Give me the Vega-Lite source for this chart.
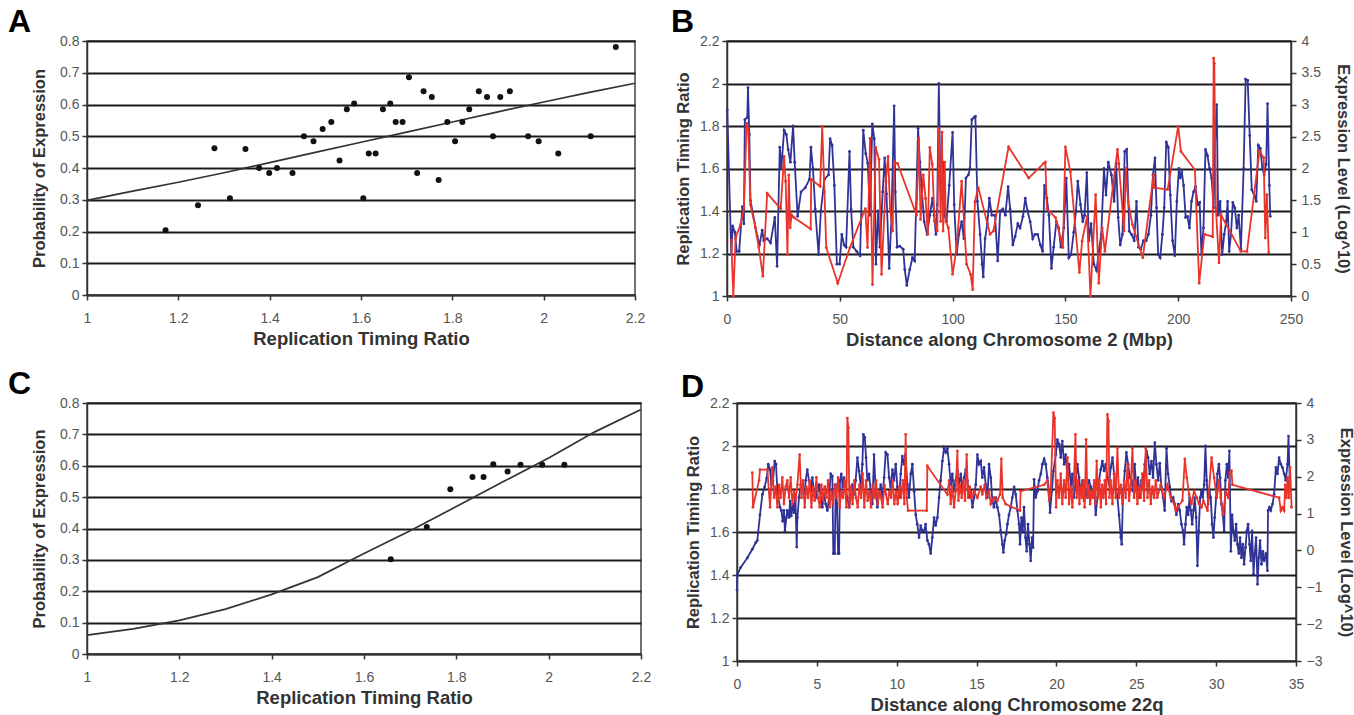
{
"$schema":"https://vega.github.io/schema/vega-lite/v6.json",
"background":"white",
"padding":{"left":7,"top":5,"right":5,"bottom":2},
"config":{
 "view":{"stroke":"#444","strokeWidth":1.5},
 "font":"Liberation Sans",
 "axis":{"labelFont":"Liberation Sans","labelFontSize":14,"labelColor":"#555","labelFlush":false,"labelOverlap":false,"tickCount":20,"titleFont":"Liberation Sans","titleFontSize":16.5,"titleFontWeight":"bold","titleColor":"#333","domainColor":"#333","domainWidth":1.5,"tickColor":"#333","tickWidth":1.5,"tickSize":5,"gridColor":"#1a1a1a","gridWidth":2.2,"labelPadding":3},
 "axisX":{"titleFontSize":18.5,"labelPadding":11,"titlePadding":4},
 "title":{"font":"Liberation Sans Narrow, Liberation Sans","fontSize":32,"fontWeight":"bold","anchor":"start","frame":"group","color":"#000","baseline":"alphabetic","offset":-5}
},
"datasets":{
 "a_points":[{"ratio":1.172,"prob":0.204},{"ratio":1.243,"prob":0.283},{"ratio":1.279,"prob":0.462},{"ratio":1.313,"prob":0.305},{"ratio":1.347,"prob":0.46},{"ratio":1.377,"prob":0.4},{"ratio":1.399,"prob":0.384},{"ratio":1.416,"prob":0.4},{"ratio":1.45,"prob":0.384},{"ratio":1.475,"prob":0.5},{"ratio":1.496,"prob":0.484},{"ratio":1.516,"prob":0.523},{"ratio":1.535,"prob":0.545},{"ratio":1.553,"prob":0.424},{"ratio":1.569,"prob":0.585},{"ratio":1.585,"prob":0.603},{"ratio":1.605,"prob":0.305},{"ratio":1.617,"prob":0.446},{"ratio":1.632,"prob":0.446},{"ratio":1.648,"prob":0.585},{"ratio":1.664,"prob":0.603},{"ratio":1.676,"prob":0.545},{"ratio":1.691,"prob":0.545},{"ratio":1.705,"prob":0.686},{"ratio":1.723,"prob":0.384},{"ratio":1.737,"prob":0.642},{"ratio":1.755,"prob":0.624},{"ratio":1.77,"prob":0.362},{"ratio":1.789,"prob":0.545},{"ratio":1.806,"prob":0.484},{"ratio":1.822,"prob":0.545},{"ratio":1.837,"prob":0.585},{"ratio":1.858,"prob":0.642},{"ratio":1.876,"prob":0.624},{"ratio":1.889,"prob":0.5},{"ratio":1.905,"prob":0.624},{"ratio":1.926,"prob":0.642},{"ratio":1.966,"prob":0.5},{"ratio":1.989,"prob":0.484},{"ratio":2.032,"prob":0.446},{"ratio":2.103,"prob":0.5},{"ratio":2.158,"prob":0.781}],
 "a_curve":[{"ratio":1.0,"prob":0.298},{"ratio":1.1,"prob":0.327},{"ratio":1.2,"prob":0.355},{"ratio":1.3,"prob":0.385},{"ratio":1.4,"prob":0.417},{"ratio":1.5,"prob":0.449},{"ratio":1.6,"prob":0.481},{"ratio":1.7,"prob":0.513},{"ratio":1.8,"prob":0.545},{"ratio":1.9,"prob":0.577},{"ratio":2.0,"prob":0.608},{"ratio":2.1,"prob":0.638},{"ratio":2.2,"prob":0.667}],
 "c_points":[{"ratio":1.658,"prob":0.302},{"ratio":1.736,"prob":0.405},{"ratio":1.787,"prob":0.525},{"ratio":1.835,"prob":0.564},{"ratio":1.859,"prob":0.564},{"ratio":1.88,"prob":0.605},{"ratio":1.911,"prob":0.582},{"ratio":1.939,"prob":0.603},{"ratio":1.986,"prob":0.603},{"ratio":2.034,"prob":0.603}],
 "c_curve":[{"ratio":1.0,"prob":0.06},{"ratio":1.1,"prob":0.08},{"ratio":1.2,"prob":0.107},{"ratio":1.3,"prob":0.143},{"ratio":1.4,"prob":0.19},{"ratio":1.5,"prob":0.245},{"ratio":1.6,"prob":0.32},{"ratio":1.7,"prob":0.393},{"ratio":1.8,"prob":0.47},{"ratio":1.9,"prob":0.548},{"ratio":2.0,"prob":0.625},{"ratio":2.1,"prob":0.708},{"ratio":2.2,"prob":0.779}],
 "b_blue":[{"mbp":0.1,"ratio":1.875},{"mbp":1.9,"ratio":1.195},{"mbp":2.5,"ratio":1.33},{"mbp":3.5,"ratio":1.3},{"mbp":4.3,"ratio":1.21},{"mbp":5.4,"ratio":1.21},{"mbp":6.8,"ratio":1.42},{"mbp":7.5,"ratio":1.34},{"mbp":7.9,"ratio":1.83},{"mbp":9,"ratio":1.84},{"mbp":9.3,"ratio":1.98},{"mbp":9.9,"ratio":1.76},{"mbp":10.4,"ratio":1.45},{"mbp":13.4,"ratio":1.28},{"mbp":14.4,"ratio":1.24},{"mbp":15.6,"ratio":1.31},{"mbp":16.3,"ratio":1.26},{"mbp":17.8,"ratio":1.27},{"mbp":19.3,"ratio":1.25},{"mbp":21.2,"ratio":1.37},{"mbp":22.2,"ratio":1.14},{"mbp":23.4,"ratio":1.7},{"mbp":24.1,"ratio":1.6},{"mbp":25.3,"ratio":1.78},{"mbp":26.3,"ratio":1.76},{"mbp":27.1,"ratio":1.69},{"mbp":28.1,"ratio":1.63},{"mbp":29.3,"ratio":1.8},{"mbp":30,"ratio":1.63},{"mbp":31.3,"ratio":1.375},{"mbp":32.8,"ratio":1.49},{"mbp":34.7,"ratio":1.51},{"mbp":36.6,"ratio":1.55},{"mbp":37.2,"ratio":1.7},{"mbp":38.1,"ratio":1.6},{"mbp":39.1,"ratio":1.41},{"mbp":40.6,"ratio":1.195},{"mbp":41.6,"ratio":1.4},{"mbp":43.2,"ratio":1.55},{"mbp":45,"ratio":1.57},{"mbp":45.7,"ratio":1.74},{"mbp":46.6,"ratio":1.71},{"mbp":47.6,"ratio":1.52},{"mbp":48.7,"ratio":1.15},{"mbp":49.9,"ratio":1.15},{"mbp":50.9,"ratio":1.29},{"mbp":51.9,"ratio":1.24},{"mbp":52.8,"ratio":1.23},{"mbp":54.3,"ratio":1.68},{"mbp":55,"ratio":1.41},{"mbp":56,"ratio":1.23},{"mbp":57.5,"ratio":1.21},{"mbp":59,"ratio":1.19},{"mbp":60.4,"ratio":1.78},{"mbp":61.5,"ratio":1.67},{"mbp":62.4,"ratio":1.625},{"mbp":63.4,"ratio":1.38},{"mbp":64.4,"ratio":1.81},{"mbp":65.3,"ratio":1.74},{"mbp":66,"ratio":1.15},{"mbp":67,"ratio":1.4},{"mbp":67.8,"ratio":1.23},{"mbp":69,"ratio":1.49},{"mbp":69.9,"ratio":1.65},{"mbp":70.7,"ratio":1.48},{"mbp":71.9,"ratio":1.13},{"mbp":72.9,"ratio":1.37},{"mbp":74.1,"ratio":1.895},{"mbp":74.6,"ratio":1.49},{"mbp":75.4,"ratio":1.23},{"mbp":76.6,"ratio":1.235},{"mbp":78.1,"ratio":1.22},{"mbp":78.8,"ratio":1.125},{"mbp":79.7,"ratio":1.05},{"mbp":81,"ratio":1.125},{"mbp":82.2,"ratio":1.18},{"mbp":83.2,"ratio":1.165},{"mbp":84.7,"ratio":1.79},{"mbp":85.5,"ratio":1.63},{"mbp":86.2,"ratio":1.52},{"mbp":87.4,"ratio":1.35},{"mbp":88.7,"ratio":1.29},{"mbp":89.9,"ratio":1.38},{"mbp":91.1,"ratio":1.46},{"mbp":91.8,"ratio":1.38},{"mbp":92.6,"ratio":1.29},{"mbp":93.2,"ratio":1.43},{"mbp":93.9,"ratio":2.0},{"mbp":94.4,"ratio":1.66},{"mbp":95.1,"ratio":1.57},{"mbp":95.8,"ratio":1.63},{"mbp":96.6,"ratio":1.375},{"mbp":97.3,"ratio":1.35},{"mbp":98.5,"ratio":1.52},{"mbp":100,"ratio":1.77},{"mbp":100.7,"ratio":1.43},{"mbp":101.8,"ratio":1.195},{"mbp":102.8,"ratio":1.29},{"mbp":104,"ratio":1.35},{"mbp":105,"ratio":1.27},{"mbp":105.9,"ratio":1.555},{"mbp":107,"ratio":1.57},{"mbp":107.7,"ratio":1.6},{"mbp":108.5,"ratio":1.83},{"mbp":109.5,"ratio":1.84},{"mbp":110.1,"ratio":1.845},{"mbp":111,"ratio":1.445},{"mbp":112.2,"ratio":1.29},{"mbp":113.1,"ratio":1.15},{"mbp":113.6,"ratio":1.09},{"mbp":114.4,"ratio":1.27},{"mbp":115.4,"ratio":1.34},{"mbp":116.3,"ratio":1.46},{"mbp":117.4,"ratio":1.38},{"mbp":118.8,"ratio":1.38},{"mbp":120,"ratio":1.165},{"mbp":121.1,"ratio":1.4},{"mbp":122.3,"ratio":1.41},{"mbp":123.4,"ratio":1.38},{"mbp":124.6,"ratio":1.515},{"mbp":125.5,"ratio":1.41},{"mbp":126.7,"ratio":1.24},{"mbp":127.7,"ratio":1.28},{"mbp":128.9,"ratio":1.34},{"mbp":129.9,"ratio":1.32},{"mbp":131.2,"ratio":1.375},{"mbp":132.2,"ratio":1.46},{"mbp":133.2,"ratio":1.4},{"mbp":134.4,"ratio":1.35},{"mbp":135.5,"ratio":1.27},{"mbp":136.5,"ratio":1.29},{"mbp":137.7,"ratio":1.29},{"mbp":138.9,"ratio":1.24},{"mbp":139.9,"ratio":1.21},{"mbp":140.7,"ratio":1.52},{"mbp":141.8,"ratio":1.46},{"mbp":142.7,"ratio":1.38},{"mbp":143.8,"ratio":1.13},{"mbp":144.8,"ratio":1.23},{"mbp":146,"ratio":1.35},{"mbp":147,"ratio":1.32},{"mbp":148,"ratio":1.23},{"mbp":149.3,"ratio":1.32},{"mbp":150.4,"ratio":1.555},{"mbp":151.5,"ratio":1.18},{"mbp":152.5,"ratio":1.195},{"mbp":153.7,"ratio":1.3},{"mbp":154.7,"ratio":1.4},{"mbp":155.5,"ratio":1.54},{"mbp":156.7,"ratio":1.43},{"mbp":157.7,"ratio":1.35},{"mbp":158.5,"ratio":1.38},{"mbp":159.5,"ratio":1.58},{"mbp":160.4,"ratio":1.26},{"mbp":161.4,"ratio":1.34},{"mbp":162.6,"ratio":1.15},{"mbp":163.8,"ratio":1.12},{"mbp":164.8,"ratio":1.21},{"mbp":165.9,"ratio":1.29},{"mbp":167.1,"ratio":1.6},{"mbp":168,"ratio":1.475},{"mbp":169,"ratio":1.63},{"mbp":170.4,"ratio":1.57},{"mbp":171.6,"ratio":1.445},{"mbp":172.5,"ratio":1.625},{"mbp":173.4,"ratio":1.37},{"mbp":174.3,"ratio":1.24},{"mbp":175.3,"ratio":1.29},{"mbp":176.3,"ratio":1.68},{"mbp":177.2,"ratio":1.69},{"mbp":178.3,"ratio":1.305},{"mbp":179.3,"ratio":1.29},{"mbp":180.5,"ratio":1.26},{"mbp":181.5,"ratio":1.445},{"mbp":182.4,"ratio":1.23},{"mbp":183.4,"ratio":1.22},{"mbp":184.6,"ratio":1.26},{"mbp":185.8,"ratio":1.26},{"mbp":186.8,"ratio":1.29},{"mbp":187.9,"ratio":1.38},{"mbp":188.8,"ratio":1.57},{"mbp":189.7,"ratio":1.65},{"mbp":190.4,"ratio":1.415},{"mbp":191.1,"ratio":1.195},{"mbp":192,"ratio":1.18},{"mbp":193,"ratio":1.29},{"mbp":193.8,"ratio":1.415},{"mbp":194.7,"ratio":1.725},{"mbp":195.6,"ratio":1.7},{"mbp":196.5,"ratio":1.475},{"mbp":197.5,"ratio":1.26},{"mbp":198.5,"ratio":1.19},{"mbp":199.4,"ratio":1.445},{"mbp":200.3,"ratio":1.6},{"mbp":200.9,"ratio":1.555},{"mbp":201.6,"ratio":1.585},{"mbp":202.4,"ratio":1.52},{"mbp":203.3,"ratio":1.37},{"mbp":204.1,"ratio":1.375},{"mbp":205,"ratio":1.32},{"mbp":205.9,"ratio":1.445},{"mbp":206.8,"ratio":1.49},{"mbp":207.7,"ratio":1.515},{"mbp":208.6,"ratio":1.43},{"mbp":209.5,"ratio":1.44},{"mbp":210.3,"ratio":1.195},{"mbp":211.2,"ratio":1.32},{"mbp":212.1,"ratio":1.69},{"mbp":213,"ratio":1.66},{"mbp":213.9,"ratio":1.6},{"mbp":214.8,"ratio":1.555},{"mbp":215.7,"ratio":1.415},{"mbp":216.4,"ratio":1.74},{"mbp":217.1,"ratio":1.9},{"mbp":217.7,"ratio":1.38},{"mbp":218.6,"ratio":1.445},{"mbp":219.5,"ratio":1.195},{"mbp":220.4,"ratio":1.29},{"mbp":221.3,"ratio":1.35},{"mbp":221.9,"ratio":1.445},{"mbp":222.6,"ratio":1.21},{"mbp":223.4,"ratio":1.29},{"mbp":224.2,"ratio":1.44},{"mbp":225.1,"ratio":1.415},{"mbp":226,"ratio":1.32},{"mbp":226.8,"ratio":1.38},{"mbp":227.8,"ratio":1.22},{"mbp":229,"ratio":1.6},{"mbp":229.9,"ratio":2.02},{"mbp":230.8,"ratio":2.015},{"mbp":231.7,"ratio":1.755},{"mbp":232.6,"ratio":1.5},{"mbp":233.7,"ratio":1.475},{"mbp":234.6,"ratio":1.445},{"mbp":235.5,"ratio":1.71},{"mbp":236.4,"ratio":1.695},{"mbp":237.3,"ratio":1.6},{"mbp":238.1,"ratio":1.57},{"mbp":239,"ratio":1.62},{"mbp":239.6,"ratio":1.905},{"mbp":240.4,"ratio":1.52},{"mbp":240.8,"ratio":1.375}],
 "b_red":[{"mbp":1.9,"expr":0.87},{"mbp":2.8,"expr":0},{"mbp":3.8,"expr":0.91},{"mbp":6,"expr":1.12},{"mbp":7.5,"expr":1.38},{"mbp":8.7,"expr":2.71},{"mbp":9.4,"expr":2.63},{"mbp":10.4,"expr":1.43},{"mbp":12.6,"expr":1.07},{"mbp":14.1,"expr":0.76},{"mbp":15.9,"expr":0.31},{"mbp":17.8,"expr":1.61},{"mbp":23.8,"expr":1.37},{"mbp":25.3,"expr":2.19},{"mbp":26,"expr":1.8},{"mbp":26.8,"expr":0.65},{"mbp":27.4,"expr":1.9},{"mbp":28,"expr":1.07},{"mbp":28.6,"expr":1.27},{"mbp":29,"expr":1.25},{"mbp":29.7,"expr":1.23},{"mbp":37.1,"expr":1.05},{"mbp":37.3,"expr":1.83},{"mbp":41.3,"expr":1.72},{"mbp":42.2,"expr":2.66},{"mbp":43.2,"expr":1.63},{"mbp":44,"expr":0.76},{"mbp":49.1,"expr":0.2},{"mbp":54.5,"expr":0.76},{"mbp":61.3,"expr":1.37},{"mbp":62.3,"expr":0.76},{"mbp":63.4,"expr":2.47},{"mbp":64.5,"expr":0.18},{"mbp":65.9,"expr":2.33},{"mbp":67.4,"expr":2.14},{"mbp":68.5,"expr":0.34},{"mbp":70.4,"expr":1.8},{"mbp":71.4,"expr":2.19},{"mbp":72.3,"expr":1.37},{"mbp":73.4,"expr":1.02},{"mbp":74.1,"expr":2.1},{"mbp":75.6,"expr":2.08},{"mbp":84,"expr":1.27},{"mbp":85,"expr":2.47},{"mbp":85.8,"expr":1.2},{"mbp":87,"expr":1.9},{"mbp":88,"expr":1.53},{"mbp":89,"expr":0.97},{"mbp":89.9,"expr":2.33},{"mbp":91,"expr":2.07},{"mbp":92,"expr":1.17},{"mbp":93.2,"expr":1.02},{"mbp":93.9,"expr":2.63},{"mbp":94.7,"expr":1.17},{"mbp":95.3,"expr":2.57},{"mbp":95.8,"expr":1.02},{"mbp":96.5,"expr":2.1},{"mbp":97,"expr":1.17},{"mbp":98.1,"expr":1.07},{"mbp":100,"expr":0.34},{"mbp":101.8,"expr":0.76},{"mbp":104,"expr":1.8},{"mbp":106.2,"expr":0.5},{"mbp":108,"expr":0.34},{"mbp":108.9,"expr":0.1},{"mbp":109.9,"expr":1.48},{"mbp":111.4,"expr":1.7},{"mbp":116.6,"expr":0.97},{"mbp":118.1,"expr":1.02},{"mbp":124.8,"expr":2.34},{"mbp":133.7,"expr":1.85},{"mbp":140.4,"expr":2.08},{"mbp":141.1,"expr":2.1},{"mbp":141.8,"expr":1.37},{"mbp":145.6,"expr":1.23},{"mbp":148.9,"expr":0.76},{"mbp":150,"expr":2.34},{"mbp":152.2,"expr":1.95},{"mbp":156.2,"expr":0.37},{"mbp":157.4,"expr":0.86},{"mbp":159.6,"expr":1.25},{"mbp":161.1,"expr":0},{"mbp":163.4,"expr":1.59},{"mbp":164.8,"expr":0.2},{"mbp":166.3,"expr":1.07},{"mbp":167.5,"expr":0.7},{"mbp":173.1,"expr":2.3},{"mbp":173.7,"expr":2.07},{"mbp":176,"expr":1.02},{"mbp":176.8,"expr":2.0},{"mbp":177.8,"expr":1.48},{"mbp":179.7,"expr":1.12},{"mbp":184.3,"expr":0.6},{"mbp":189.1,"expr":1.9},{"mbp":189.4,"expr":1.7},{"mbp":195.3,"expr":1.67},{"mbp":200,"expr":2.66},{"mbp":201.2,"expr":2.27},{"mbp":207.4,"expr":1.98},{"mbp":209.3,"expr":0.2},{"mbp":211.6,"expr":0.97},{"mbp":215.3,"expr":0.93},{"mbp":215.7,"expr":3.73},{"mbp":216,"expr":3.65},{"mbp":216.7,"expr":1.37},{"mbp":218.1,"expr":0.52},{"mbp":219,"expr":1.27},{"mbp":227.8,"expr":0.7},{"mbp":230.5,"expr":0.7},{"mbp":236,"expr":2.27},{"mbp":237.9,"expr":2.17},{"mbp":238.6,"expr":0.91},{"mbp":239.3,"expr":1.59},{"mbp":240.1,"expr":0.68}],
 "d_blue":[{"mbp":0,"ratio":1.33},{"mbp":0.02,"ratio":1.4},{"mbp":0.23,"ratio":1.435},{"mbp":0.65,"ratio":1.48},{"mbp":0.96,"ratio":1.52},{"mbp":1.17,"ratio":1.55},{"mbp":1.27,"ratio":1.56},{"mbp":1.44,"ratio":1.68},{"mbp":1.59,"ratio":1.775},{"mbp":1.73,"ratio":1.81},{"mbp":1.86,"ratio":1.85},{"mbp":1.96,"ratio":1.915},{"mbp":2.07,"ratio":1.89},{"mbp":2.15,"ratio":1.82},{"mbp":2.25,"ratio":1.84},{"mbp":2.36,"ratio":1.93},{"mbp":2.44,"ratio":1.915},{"mbp":2.53,"ratio":1.79},{"mbp":2.59,"ratio":1.76},{"mbp":2.69,"ratio":1.715},{"mbp":2.78,"ratio":1.7},{"mbp":2.86,"ratio":1.65},{"mbp":2.94,"ratio":1.7},{"mbp":3.0,"ratio":1.605},{"mbp":3.09,"ratio":1.667},{"mbp":3.15,"ratio":1.7},{"mbp":3.26,"ratio":1.667},{"mbp":3.32,"ratio":1.745},{"mbp":3.4,"ratio":1.675},{"mbp":3.49,"ratio":1.73},{"mbp":3.57,"ratio":1.69},{"mbp":3.65,"ratio":1.775},{"mbp":3.74,"ratio":1.53},{"mbp":3.78,"ratio":1.667},{"mbp":3.88,"ratio":1.76},{"mbp":3.99,"ratio":1.82},{"mbp":4.09,"ratio":1.8},{"mbp":4.2,"ratio":1.76},{"mbp":4.3,"ratio":1.84},{"mbp":4.4,"ratio":1.89},{"mbp":4.51,"ratio":1.84},{"mbp":4.61,"ratio":1.79},{"mbp":4.72,"ratio":1.853},{"mbp":4.82,"ratio":1.79},{"mbp":4.93,"ratio":1.76},{"mbp":5.03,"ratio":1.79},{"mbp":5.14,"ratio":1.82},{"mbp":5.24,"ratio":1.76},{"mbp":5.34,"ratio":1.715},{"mbp":5.45,"ratio":1.775},{"mbp":5.55,"ratio":1.73},{"mbp":5.66,"ratio":1.7},{"mbp":5.76,"ratio":1.76},{"mbp":5.87,"ratio":1.87},{"mbp":5.97,"ratio":1.86},{"mbp":6.03,"ratio":1.5},{"mbp":6.12,"ratio":1.5},{"mbp":6.18,"ratio":1.82},{"mbp":6.26,"ratio":1.73},{"mbp":6.33,"ratio":1.5},{"mbp":6.39,"ratio":1.5},{"mbp":6.45,"ratio":1.84},{"mbp":6.53,"ratio":1.87},{"mbp":6.62,"ratio":1.81},{"mbp":6.7,"ratio":1.853},{"mbp":6.81,"ratio":1.8},{"mbp":6.91,"ratio":1.76},{"mbp":7.01,"ratio":1.715},{"mbp":7.12,"ratio":1.76},{"mbp":7.22,"ratio":1.82},{"mbp":7.33,"ratio":1.775},{"mbp":7.43,"ratio":1.84},{"mbp":7.54,"ratio":1.946},{"mbp":7.64,"ratio":1.884},{"mbp":7.75,"ratio":1.81},{"mbp":7.85,"ratio":1.915},{"mbp":7.91,"ratio":2.054},{"mbp":8.0,"ratio":2.04},{"mbp":8.08,"ratio":1.946},{"mbp":8.16,"ratio":1.84},{"mbp":8.27,"ratio":1.87},{"mbp":8.37,"ratio":1.79},{"mbp":8.48,"ratio":1.73},{"mbp":8.58,"ratio":1.96},{"mbp":8.68,"ratio":1.79},{"mbp":8.79,"ratio":1.715},{"mbp":8.89,"ratio":1.775},{"mbp":9.0,"ratio":1.82},{"mbp":9.1,"ratio":1.76},{"mbp":9.21,"ratio":1.853},{"mbp":9.31,"ratio":1.97},{"mbp":9.42,"ratio":1.96},{"mbp":9.52,"ratio":1.853},{"mbp":9.62,"ratio":1.81},{"mbp":9.73,"ratio":1.89},{"mbp":9.83,"ratio":1.84},{"mbp":9.94,"ratio":1.915},{"mbp":10.04,"ratio":1.81},{"mbp":10.15,"ratio":1.76},{"mbp":10.25,"ratio":1.87},{"mbp":10.35,"ratio":1.953},{"mbp":10.46,"ratio":1.915},{"mbp":10.54,"ratio":1.96},{"mbp":10.67,"ratio":1.82},{"mbp":10.77,"ratio":1.76},{"mbp":10.88,"ratio":1.87},{"mbp":10.98,"ratio":1.915},{"mbp":11.09,"ratio":1.79},{"mbp":11.19,"ratio":1.68},{"mbp":11.29,"ratio":1.636},{"mbp":11.4,"ratio":1.574},{"mbp":11.5,"ratio":1.63},{"mbp":11.61,"ratio":1.605},{"mbp":11.71,"ratio":1.605},{"mbp":11.81,"ratio":1.636},{"mbp":11.92,"ratio":1.56},{"mbp":12.02,"ratio":1.543},{"mbp":12.13,"ratio":1.5},{"mbp":12.23,"ratio":1.574},{"mbp":12.34,"ratio":1.667},{"mbp":12.44,"ratio":1.63},{"mbp":12.55,"ratio":1.667},{"mbp":12.65,"ratio":1.76},{"mbp":12.75,"ratio":1.84},{"mbp":12.86,"ratio":1.93},{"mbp":12.96,"ratio":1.99},{"mbp":13.07,"ratio":1.97},{"mbp":13.17,"ratio":1.99},{"mbp":13.28,"ratio":1.915},{"mbp":13.38,"ratio":1.82},{"mbp":13.48,"ratio":1.87},{"mbp":13.59,"ratio":1.79},{"mbp":13.69,"ratio":1.84},{"mbp":13.8,"ratio":1.884},{"mbp":13.9,"ratio":1.82},{"mbp":14.01,"ratio":1.87},{"mbp":14.11,"ratio":1.79},{"mbp":14.22,"ratio":1.853},{"mbp":14.32,"ratio":1.89},{"mbp":14.42,"ratio":1.84},{"mbp":14.53,"ratio":1.76},{"mbp":14.63,"ratio":1.79},{"mbp":14.74,"ratio":1.715},{"mbp":14.84,"ratio":1.76},{"mbp":14.95,"ratio":1.82},{"mbp":15.05,"ratio":1.96},{"mbp":15.15,"ratio":1.915},{"mbp":15.26,"ratio":1.93},{"mbp":15.36,"ratio":1.853},{"mbp":15.47,"ratio":1.9},{"mbp":15.57,"ratio":1.82},{"mbp":15.68,"ratio":1.76},{"mbp":15.78,"ratio":1.915},{"mbp":15.89,"ratio":1.853},{"mbp":15.99,"ratio":1.745},{"mbp":16.09,"ratio":1.715},{"mbp":16.2,"ratio":1.76},{"mbp":16.3,"ratio":1.715},{"mbp":16.41,"ratio":1.68},{"mbp":16.51,"ratio":1.605},{"mbp":16.62,"ratio":1.543},{"mbp":16.68,"ratio":1.505},{"mbp":16.76,"ratio":1.56},{"mbp":16.85,"ratio":1.59},{"mbp":16.93,"ratio":1.636},{"mbp":17.03,"ratio":1.68},{"mbp":17.14,"ratio":1.715},{"mbp":17.24,"ratio":1.76},{"mbp":17.35,"ratio":1.81},{"mbp":17.45,"ratio":1.775},{"mbp":17.56,"ratio":1.7},{"mbp":17.66,"ratio":1.636},{"mbp":17.72,"ratio":1.543},{"mbp":17.81,"ratio":1.667},{"mbp":17.89,"ratio":1.605},{"mbp":17.97,"ratio":1.715},{"mbp":18.06,"ratio":1.574},{"mbp":18.14,"ratio":1.51},{"mbp":18.22,"ratio":1.636},{"mbp":18.31,"ratio":1.543},{"mbp":18.39,"ratio":1.466},{"mbp":18.47,"ratio":1.574},{"mbp":18.54,"ratio":1.528},{"mbp":18.6,"ratio":1.845},{"mbp":18.7,"ratio":1.76},{"mbp":18.81,"ratio":1.79},{"mbp":18.91,"ratio":1.84},{"mbp":19.02,"ratio":1.87},{"mbp":19.12,"ratio":1.915},{"mbp":19.23,"ratio":1.94},{"mbp":19.33,"ratio":1.915},{"mbp":19.43,"ratio":1.853},{"mbp":19.54,"ratio":1.79},{"mbp":19.6,"ratio":1.69},{"mbp":19.71,"ratio":1.79},{"mbp":19.81,"ratio":1.884},{"mbp":19.96,"ratio":1.96},{"mbp":20.06,"ratio":2.03},{"mbp":20.17,"ratio":2.008},{"mbp":20.27,"ratio":1.946},{"mbp":20.37,"ratio":2.023},{"mbp":20.48,"ratio":1.915},{"mbp":20.58,"ratio":1.96},{"mbp":20.69,"ratio":1.853},{"mbp":20.79,"ratio":1.915},{"mbp":20.9,"ratio":1.82},{"mbp":21.0,"ratio":1.87},{"mbp":21.1,"ratio":1.76},{"mbp":21.21,"ratio":1.84},{"mbp":21.31,"ratio":1.915},{"mbp":21.42,"ratio":1.853},{"mbp":21.52,"ratio":1.775},{"mbp":21.63,"ratio":1.84},{"mbp":21.73,"ratio":1.745},{"mbp":21.84,"ratio":1.79},{"mbp":21.94,"ratio":1.76},{"mbp":22.04,"ratio":1.84},{"mbp":22.15,"ratio":1.81},{"mbp":22.25,"ratio":1.76},{"mbp":22.36,"ratio":1.82},{"mbp":22.46,"ratio":1.68},{"mbp":22.57,"ratio":1.76},{"mbp":22.67,"ratio":1.84},{"mbp":22.77,"ratio":1.89},{"mbp":22.88,"ratio":1.93},{"mbp":22.98,"ratio":1.884},{"mbp":23.09,"ratio":1.915},{"mbp":23.19,"ratio":1.853},{"mbp":23.3,"ratio":1.82},{"mbp":23.4,"ratio":1.9},{"mbp":23.51,"ratio":1.946},{"mbp":23.61,"ratio":1.87},{"mbp":23.71,"ratio":1.82},{"mbp":23.82,"ratio":1.76},{"mbp":23.92,"ratio":1.68},{"mbp":24.03,"ratio":1.574},{"mbp":24.09,"ratio":1.543},{"mbp":24.17,"ratio":1.775},{"mbp":24.28,"ratio":1.884},{"mbp":24.38,"ratio":1.97},{"mbp":24.49,"ratio":1.915},{"mbp":24.59,"ratio":1.853},{"mbp":24.7,"ratio":1.84},{"mbp":24.8,"ratio":1.79},{"mbp":24.9,"ratio":1.915},{"mbp":25.01,"ratio":1.79},{"mbp":25.11,"ratio":1.853},{"mbp":25.22,"ratio":1.76},{"mbp":25.32,"ratio":1.84},{"mbp":25.43,"ratio":1.81},{"mbp":25.53,"ratio":1.915},{"mbp":25.64,"ratio":1.977},{"mbp":25.74,"ratio":1.946},{"mbp":25.84,"ratio":1.87},{"mbp":25.95,"ratio":1.93},{"mbp":26.05,"ratio":1.853},{"mbp":26.16,"ratio":2.015},{"mbp":26.26,"ratio":1.915},{"mbp":26.37,"ratio":1.84},{"mbp":26.47,"ratio":1.92},{"mbp":26.57,"ratio":1.81},{"mbp":26.68,"ratio":1.76},{"mbp":26.78,"ratio":1.7},{"mbp":26.89,"ratio":1.99},{"mbp":26.99,"ratio":1.87},{"mbp":27.1,"ratio":1.81},{"mbp":27.2,"ratio":1.745},{"mbp":27.31,"ratio":1.76},{"mbp":27.41,"ratio":1.73},{"mbp":27.51,"ratio":1.68},{"mbp":27.62,"ratio":1.73},{"mbp":27.72,"ratio":1.7},{"mbp":27.83,"ratio":1.636},{"mbp":27.93,"ratio":1.605},{"mbp":27.99,"ratio":1.543},{"mbp":28.08,"ratio":1.636},{"mbp":28.16,"ratio":1.715},{"mbp":28.25,"ratio":1.68},{"mbp":28.33,"ratio":1.76},{"mbp":28.41,"ratio":1.7},{"mbp":28.5,"ratio":1.636},{"mbp":28.58,"ratio":1.7},{"mbp":28.66,"ratio":1.76},{"mbp":28.75,"ratio":1.667},{"mbp":28.83,"ratio":1.443},{"mbp":28.91,"ratio":1.605},{"mbp":29.0,"ratio":1.76},{"mbp":29.08,"ratio":1.79},{"mbp":29.16,"ratio":1.76},{"mbp":29.25,"ratio":1.82},{"mbp":29.33,"ratio":2.0},{"mbp":29.41,"ratio":1.84},{"mbp":29.5,"ratio":1.73},{"mbp":29.58,"ratio":1.79},{"mbp":29.66,"ratio":1.76},{"mbp":29.75,"ratio":1.636},{"mbp":29.83,"ratio":1.574},{"mbp":29.91,"ratio":1.667},{"mbp":30.0,"ratio":1.76},{"mbp":30.08,"ratio":1.87},{"mbp":30.17,"ratio":1.915},{"mbp":30.25,"ratio":1.853},{"mbp":30.33,"ratio":1.73},{"mbp":30.42,"ratio":1.68},{"mbp":30.5,"ratio":1.605},{"mbp":30.58,"ratio":1.84},{"mbp":30.67,"ratio":1.915},{"mbp":30.75,"ratio":1.853},{"mbp":30.83,"ratio":1.977},{"mbp":30.92,"ratio":1.51},{"mbp":31.0,"ratio":1.68},{"mbp":31.08,"ratio":1.605},{"mbp":31.17,"ratio":1.56},{"mbp":31.25,"ratio":1.636},{"mbp":31.33,"ratio":1.543},{"mbp":31.42,"ratio":1.5},{"mbp":31.5,"ratio":1.574},{"mbp":31.58,"ratio":1.48},{"mbp":31.67,"ratio":1.543},{"mbp":31.75,"ratio":1.45},{"mbp":31.84,"ratio":1.528},{"mbp":31.92,"ratio":1.605},{"mbp":32.0,"ratio":1.636},{"mbp":32.09,"ratio":1.543},{"mbp":32.17,"ratio":1.466},{"mbp":32.25,"ratio":1.605},{"mbp":32.34,"ratio":1.404},{"mbp":32.42,"ratio":1.5},{"mbp":32.5,"ratio":1.574},{"mbp":32.59,"ratio":1.357},{"mbp":32.67,"ratio":1.48},{"mbp":32.75,"ratio":1.56},{"mbp":32.84,"ratio":1.45},{"mbp":32.92,"ratio":1.51},{"mbp":33.0,"ratio":1.466},{"mbp":33.11,"ratio":1.5},{"mbp":33.21,"ratio":1.42},{"mbp":33.25,"ratio":1.7},{"mbp":33.34,"ratio":1.715},{"mbp":33.42,"ratio":1.7},{"mbp":33.53,"ratio":1.73},{"mbp":33.63,"ratio":1.775},{"mbp":33.74,"ratio":1.9},{"mbp":33.84,"ratio":1.87},{"mbp":33.94,"ratio":1.946},{"mbp":34.05,"ratio":1.915},{"mbp":34.15,"ratio":1.9},{"mbp":34.26,"ratio":1.87},{"mbp":34.36,"ratio":1.84},{"mbp":34.47,"ratio":1.915},{"mbp":34.53,"ratio":2.046},{"mbp":34.61,"ratio":1.84}],
 "d_red":[{"mbp":0.96,"expr":2.11},{"mbp":1.0,"expr":1.17},{"mbp":1.38,"expr":1.9},{"mbp":1.44,"expr":2.19},{"mbp":1.9,"expr":2.19},{"mbp":2.07,"expr":1.17},{"mbp":2.21,"expr":2.25},{"mbp":2.32,"expr":1.43},{"mbp":2.42,"expr":1.73},{"mbp":2.53,"expr":1.17},{"mbp":2.63,"expr":1.78},{"mbp":2.73,"expr":1.43},{"mbp":2.84,"expr":1.98},{"mbp":2.94,"expr":1.26},{"mbp":3.05,"expr":1.73},{"mbp":3.15,"expr":1.9},{"mbp":3.26,"expr":1.43},{"mbp":3.36,"expr":1.98},{"mbp":3.47,"expr":1.26},{"mbp":3.57,"expr":1.61},{"mbp":3.67,"expr":1.35},{"mbp":3.78,"expr":1.78},{"mbp":3.92,"expr":2.6},{"mbp":4.03,"expr":1.43},{"mbp":4.13,"expr":1.9},{"mbp":4.24,"expr":1.17},{"mbp":4.34,"expr":1.73},{"mbp":4.45,"expr":1.43},{"mbp":4.55,"expr":1.9},{"mbp":4.66,"expr":1.17},{"mbp":4.76,"expr":1.73},{"mbp":4.86,"expr":1.35},{"mbp":4.97,"expr":1.98},{"mbp":5.07,"expr":1.43},{"mbp":5.18,"expr":1.17},{"mbp":5.28,"expr":1.78},{"mbp":5.39,"expr":1.35},{"mbp":5.49,"expr":1.73},{"mbp":5.6,"expr":1.43},{"mbp":5.7,"expr":1.9},{"mbp":5.8,"expr":1.17},{"mbp":5.91,"expr":1.61},{"mbp":6.01,"expr":1.26},{"mbp":6.12,"expr":1.78},{"mbp":6.22,"expr":1.43},{"mbp":6.33,"expr":1.98},{"mbp":6.43,"expr":1.17},{"mbp":6.54,"expr":1.61},{"mbp":6.64,"expr":1.43},{"mbp":6.74,"expr":1.9},{"mbp":6.85,"expr":1.17},{"mbp":6.91,"expr":3.59},{"mbp":6.97,"expr":3.33},{"mbp":7.04,"expr":1.17},{"mbp":7.14,"expr":1.73},{"mbp":7.24,"expr":1.26},{"mbp":7.35,"expr":1.9},{"mbp":7.45,"expr":1.43},{"mbp":7.56,"expr":1.17},{"mbp":7.66,"expr":1.78},{"mbp":7.77,"expr":1.43},{"mbp":7.87,"expr":2.08},{"mbp":7.97,"expr":1.17},{"mbp":8.08,"expr":1.9},{"mbp":8.18,"expr":1.35},{"mbp":8.29,"expr":1.61},{"mbp":8.39,"expr":1.17},{"mbp":8.5,"expr":1.78},{"mbp":8.6,"expr":1.43},{"mbp":8.71,"expr":1.9},{"mbp":8.81,"expr":1.26},{"mbp":8.91,"expr":1.61},{"mbp":9.02,"expr":1.43},{"mbp":9.12,"expr":1.17},{"mbp":9.23,"expr":1.78},{"mbp":9.33,"expr":1.52},{"mbp":9.44,"expr":1.26},{"mbp":9.54,"expr":1.61},{"mbp":9.65,"expr":1.43},{"mbp":9.75,"expr":1.9},{"mbp":9.85,"expr":1.26},{"mbp":9.96,"expr":1.61},{"mbp":10.06,"expr":1.26},{"mbp":10.17,"expr":1.73},{"mbp":10.27,"expr":1.43},{"mbp":10.38,"expr":1.9},{"mbp":10.48,"expr":1.26},{"mbp":10.56,"expr":3.15},{"mbp":10.63,"expr":1.43},{"mbp":10.71,"expr":1.08},{"mbp":11.88,"expr":1.08},{"mbp":11.92,"expr":2.29},{"mbp":13.17,"expr":1.52},{"mbp":13.28,"expr":1.9},{"mbp":13.38,"expr":1.26},{"mbp":13.48,"expr":1.73},{"mbp":13.59,"expr":1.17},{"mbp":13.69,"expr":1.61},{"mbp":13.8,"expr":2.7},{"mbp":13.86,"expr":1.35},{"mbp":13.96,"expr":1.78},{"mbp":14.07,"expr":1.43},{"mbp":14.17,"expr":1.9},{"mbp":14.28,"expr":1.35},{"mbp":14.38,"expr":2.6},{"mbp":14.47,"expr":1.43},{"mbp":14.57,"expr":1.73},{"mbp":14.67,"expr":1.43},{"mbp":14.84,"expr":1.61},{"mbp":15.05,"expr":1.43},{"mbp":15.26,"expr":1.73},{"mbp":15.36,"expr":1.52},{"mbp":15.51,"expr":1.78},{"mbp":15.61,"expr":1.43},{"mbp":15.78,"expr":1.61},{"mbp":15.89,"expr":1.26},{"mbp":16.09,"expr":1.43},{"mbp":16.3,"expr":1.35},{"mbp":16.47,"expr":1.52},{"mbp":16.55,"expr":2.48},{"mbp":16.64,"expr":1.43},{"mbp":16.82,"expr":1.26},{"mbp":17.72,"expr":1.08},{"mbp":17.76,"expr":1.61},{"mbp":19.23,"expr":1.78},{"mbp":19.43,"expr":1.9},{"mbp":19.54,"expr":1.35},{"mbp":19.64,"expr":1.61},{"mbp":19.81,"expr":3.74},{"mbp":19.89,"expr":3.59},{"mbp":19.98,"expr":1.17},{"mbp":20.06,"expr":1.9},{"mbp":20.17,"expr":1.43},{"mbp":20.27,"expr":2.08},{"mbp":20.37,"expr":1.26},{"mbp":20.48,"expr":1.9},{"mbp":20.58,"expr":1.43},{"mbp":20.69,"expr":2.52},{"mbp":20.79,"expr":1.26},{"mbp":20.9,"expr":1.73},{"mbp":21.0,"expr":1.17},{"mbp":21.1,"expr":1.9},{"mbp":21.19,"expr":3.15},{"mbp":21.27,"expr":1.43},{"mbp":21.36,"expr":1.9},{"mbp":21.44,"expr":1.26},{"mbp":21.52,"expr":1.73},{"mbp":21.61,"expr":1.43},{"mbp":21.69,"expr":1.9},{"mbp":21.77,"expr":1.17},{"mbp":21.86,"expr":3.01},{"mbp":21.94,"expr":1.43},{"mbp":22.02,"expr":1.78},{"mbp":22.11,"expr":1.26},{"mbp":22.19,"expr":1.61},{"mbp":22.27,"expr":1.43},{"mbp":22.36,"expr":1.9},{"mbp":22.44,"expr":1.26},{"mbp":22.52,"expr":2.43},{"mbp":22.61,"expr":1.43},{"mbp":22.69,"expr":1.9},{"mbp":22.78,"expr":1.17},{"mbp":22.86,"expr":1.78},{"mbp":22.94,"expr":1.43},{"mbp":23.03,"expr":1.9},{"mbp":23.11,"expr":1.26},{"mbp":23.19,"expr":3.69},{"mbp":23.26,"expr":3.51},{"mbp":23.32,"expr":1.43},{"mbp":23.4,"expr":1.9},{"mbp":23.51,"expr":1.26},{"mbp":23.61,"expr":2.08},{"mbp":23.71,"expr":1.43},{"mbp":23.82,"expr":2.78},{"mbp":23.92,"expr":1.43},{"mbp":24.03,"expr":1.78},{"mbp":24.13,"expr":1.26},{"mbp":24.24,"expr":1.9},{"mbp":24.34,"expr":1.43},{"mbp":24.45,"expr":2.34},{"mbp":24.55,"expr":1.35},{"mbp":24.65,"expr":1.78},{"mbp":24.76,"expr":2.78},{"mbp":24.86,"expr":1.43},{"mbp":24.97,"expr":1.9},{"mbp":25.07,"expr":1.26},{"mbp":25.18,"expr":1.73},{"mbp":25.28,"expr":1.43},{"mbp":25.38,"expr":2.08},{"mbp":25.49,"expr":1.35},{"mbp":25.59,"expr":2.78},{"mbp":25.7,"expr":1.43},{"mbp":25.8,"expr":1.9},{"mbp":25.91,"expr":1.26},{"mbp":26.01,"expr":1.73},{"mbp":26.12,"expr":1.43},{"mbp":26.22,"expr":1.9},{"mbp":26.32,"expr":1.43},{"mbp":26.53,"expr":1.78},{"mbp":26.74,"expr":1.43},{"mbp":26.95,"expr":1.78},{"mbp":27.16,"expr":1.43},{"mbp":27.37,"expr":1.26},{"mbp":27.47,"expr":1.08},{"mbp":27.58,"expr":1.17},{"mbp":27.89,"expr":1.35},{"mbp":28.04,"expr":2.48},{"mbp":28.16,"expr":1.98},{"mbp":28.31,"expr":1.52},{"mbp":28.45,"expr":1.26},{"mbp":28.62,"expr":1.61},{"mbp":28.79,"expr":1.43},{"mbp":28.93,"expr":1.26},{"mbp":29.08,"expr":1.17},{"mbp":29.2,"expr":1.35},{"mbp":29.46,"expr":1.08},{"mbp":29.71,"expr":2.52},{"mbp":29.87,"expr":1.98},{"mbp":30.04,"expr":1.43},{"mbp":30.17,"expr":1.9},{"mbp":30.29,"expr":1.43},{"mbp":30.44,"expr":0.97},{"mbp":30.6,"expr":1.61},{"mbp":30.75,"expr":1.43},{"mbp":30.85,"expr":2.11},{"mbp":30.96,"expr":2.16},{"mbp":31.02,"expr":1.78},{"mbp":33.94,"expr":1.43},{"mbp":34.05,"expr":1.08},{"mbp":34.15,"expr":1.17},{"mbp":34.26,"expr":1.08},{"mbp":34.32,"expr":1.78},{"mbp":34.4,"expr":1.43},{"mbp":34.47,"expr":1.98},{"mbp":34.55,"expr":1.43},{"mbp":34.63,"expr":2.25},{"mbp":34.72,"expr":1.17}]
},
"vconcat":[
 {"hconcat":[
  {"title":{"text":"A","dx":-79},"width":548,"height":254,
   "layer":[
    {"data":{"name":"a_curve"},"mark":{"type":"line","color":"#333","strokeWidth":1.7},
     "encoding":{"x":{"field":"ratio","type":"quantitative","scale":{"domain":[1,2.2],"nice":false},"axis":{"values":[1,1.2,1.4,1.6,1.8,2,2.2],"format":"~g","title":"Replication Timing Ratio","grid":false}},
      "y":{"field":"prob","type":"quantitative","scale":{"domain":[0,0.8],"nice":false},"axis":{"values":[0,0.1,0.2,0.3,0.4,0.5,0.6,0.7,0.8],"format":"~g","title":"Probability of Expression","grid":true,"titlePadding":12}}}},
    {"data":{"name":"a_points"},"mark":{"type":"circle","size":36,"color":"#111","opacity":1},
     "encoding":{"x":{"field":"ratio","type":"quantitative"},"y":{"field":"prob","type":"quantitative"}}}
   ]},
  {"title":{"text":"B","dx":-56},"width":564,"height":255,
   "layer":[
    {"data":{"name":"b_blue"},"mark":{"type":"line","color":"#2f3398","strokeWidth":1.8,"point":{"filled":true,"size":8,"color":"#2f3398"}},
     "encoding":{"x":{"field":"mbp","type":"quantitative","scale":{"domain":[0,250],"nice":false},"axis":{"values":[0,50,100,150,200,250],"title":"Distance along Chromosome 2 (Mbp)","grid":false}},
      "y":{"field":"ratio","type":"quantitative","scale":{"domain":[1,2.2],"nice":false},"axis":{"values":[1,1.2,1.4,1.6,1.8,2,2.2],"format":"~g","title":"Replication Timing Ratio","grid":true,"titlePadding":8}}}},
    {"data":{"name":"b_red"},"mark":{"type":"line","color":"#e9332b","strokeWidth":1.8,"point":{"filled":true,"size":8,"color":"#e9332b"}},
     "encoding":{"x":{"field":"mbp","type":"quantitative"},
      "y":{"field":"expr","type":"quantitative","scale":{"domain":[0,4],"nice":false},"axis":{"orient":"right","values":[0,0.5,1,1.5,2,2.5,3,3.5,4],"format":"~g","title":"Expression Level (Log^10)","grid":false,"labelPadding":5,"titlePadding":14}}}}
   ],
   "resolve":{"scale":{"y":"independent"}}}
 ],"spacing":24},
 {"hconcat":[
  {"title":{"text":"C","dx":-79},"width":554,"height":251,
   "layer":[
    {"data":{"name":"c_curve"},"mark":{"type":"line","color":"#333","strokeWidth":1.7},
     "encoding":{"x":{"field":"ratio","type":"quantitative","scale":{"domain":[1,2.2],"nice":false},"axis":{"values":[1,1.2,1.4,1.6,1.8,2,2.2],"format":"~g","title":"Replication Timing Ratio","grid":false}},
      "y":{"field":"prob","type":"quantitative","scale":{"domain":[0,0.8],"nice":false},"axis":{"values":[0,0.1,0.2,0.3,0.4,0.5,0.6,0.7,0.8],"format":"~g","title":"Probability of Expression","grid":true,"titlePadding":12}}}},
    {"data":{"name":"c_points"},"mark":{"type":"circle","size":36,"color":"#111","opacity":1},
     "encoding":{"x":{"field":"ratio","type":"quantitative"},"y":{"field":"prob","type":"quantitative"}}}
   ]},
  {"title":{"text":"D","dx":-56,"offset":-8},"width":559,"height":258,
   "layer":[
    {"data":{"name":"d_blue"},"mark":{"type":"line","color":"#2f3398","strokeWidth":1.8,"point":{"filled":true,"size":8,"color":"#2f3398"}},
     "encoding":{"x":{"field":"mbp","type":"quantitative","scale":{"domain":[0,35],"nice":false},"axis":{"values":[0,5,10,15,20,25,30,35],"title":"Distance along Chromosome 22q","grid":false}},
      "y":{"field":"ratio","type":"quantitative","scale":{"domain":[1,2.2],"nice":false},"axis":{"values":[1,1.2,1.4,1.6,1.8,2,2.2],"format":"~g","title":"Replication Timing Ratio","grid":true,"titlePadding":8}}}},
    {"data":{"name":"d_red"},"mark":{"type":"line","color":"#e9332b","strokeWidth":1.8,"point":{"filled":true,"size":8,"color":"#e9332b"}},
     "encoding":{"x":{"field":"mbp","type":"quantitative"},
      "y":{"field":"expr","type":"quantitative","scale":{"domain":[-3,4],"nice":false},"axis":{"orient":"right","values":[-3,-2,-1,0,1,2,3,4],"format":"~g","title":"Expression Level (Log^10)","grid":false,"labelPadding":5,"titlePadding":16}}}}
   ],
   "resolve":{"scale":{"y":"independent"}}}
 ],"spacing":28}
],
"spacing":17
}
